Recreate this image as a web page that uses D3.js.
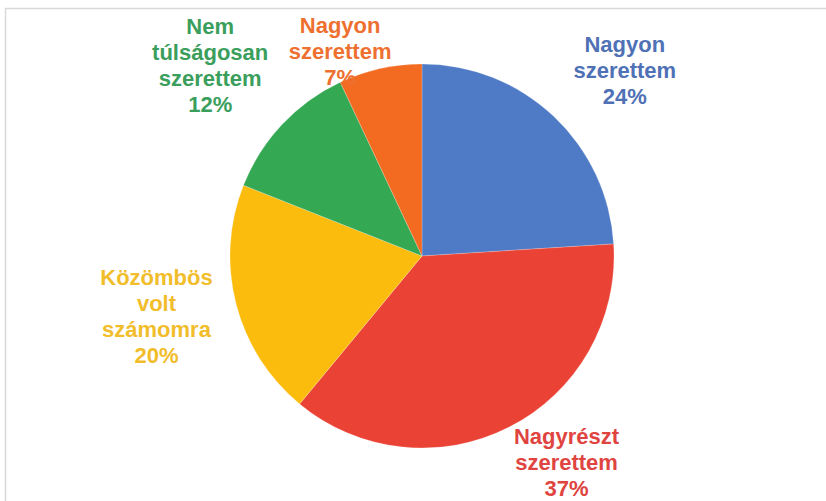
<!DOCTYPE html>
<html>
<head>
<meta charset="utf-8">
<script src="https://cdn.jsdelivr.net/npm/d3@7"></script>
<style>
  html, body { margin: 0; padding: 0; background: #ffffff; }
  svg { display: block; }
</style>
</head>
<body>
<svg id="chart" width="826" height="501"></svg>
<script>
// Survey answers, clockwise from 12 o'clock
const categories = [
  ["Nagyon", "szerettem"],
  ["Nagyrészt", "szerettem"],
  ["Közömbös", "volt", "számomra"],
  ["Nem", "túlságosan", "szerettem"],
  ["Nagyon", "szerettem"]
];
const values = [24, 37, 20, 12, 7];
const colors = ["#4e7ac6", "#ea4335", "#fbbc0e", "#34a853", "#f26b20"];
const textColors = ["#4f71b5", "#e04440", "#f1bd2a", "#3a9e5c", "#ee7030"];

// Layout
const W = 826, H = 501;
const cx = 422, cy = 256, radius = 192;
const labelRadius = 270;
const lineHeight = 26;
const fontSize = 22;
// fine placement of each label block around its centroid
const labelNudge = [[18, 11], [22, -34], [-4, -7], [-15, -6], [-23, 59]];

const svg = d3.select("#chart");

// chart frame
svg.append("rect").attr("x", 0).attr("y", 0).attr("width", W).attr("height", H).attr("fill", "#ffffff");
svg.append("path")
  .attr("d", `M5.5,${H} V8.5 H${W}`)
  .attr("fill", "none")
  .attr("stroke", "#d9d9d9")
  .attr("stroke-width", 1.5);

const pie = d3.pie().sort(null).value(d => d);
const arcs = pie(values);

const arc = d3.arc().innerRadius(0).outerRadius(radius);
const labelArc = d3.arc().innerRadius(labelRadius).outerRadius(labelRadius);

const g = svg.append("g").attr("transform", `translate(${cx},${cy})`);

g.selectAll("path.slice")
  .data(arcs)
  .join("path")
  .attr("class", "slice")
  .attr("d", arc)
  .attr("fill", (d, i) => colors[i])
  .attr("stroke", "#ffffff")
  .attr("stroke-width", 0.6)
  .attr("stroke-opacity", 0.35);

g.selectAll("text.label")
  .data(arcs)
  .join("text")
  .attr("class", "label")
  .attr("text-anchor", "middle")
  .attr("font-family", "'Liberation Sans', Arial, sans-serif")
  .attr("font-weight", "bold")
  .attr("font-size", fontSize)
  .attr("fill", (d, i) => textColors[i])
  .each(function (d, i) {
    const [x0, y0] = labelArc.centroid(d);
    const x = x0 + labelNudge[i][0];
    const y = y0 + labelNudge[i][1];
    const lines = categories[i].concat([values[i] + "%"]);
    const n = lines.length;
    const t = d3.select(this);
    lines.forEach((line, k) => {
      t.append("tspan")
        .attr("x", x)
        .attr("y", y + (k - (n - 1) / 2) * lineHeight + fontSize * 0.35)
        .text(line);
    });
  });
</script>
</body>
</html>
